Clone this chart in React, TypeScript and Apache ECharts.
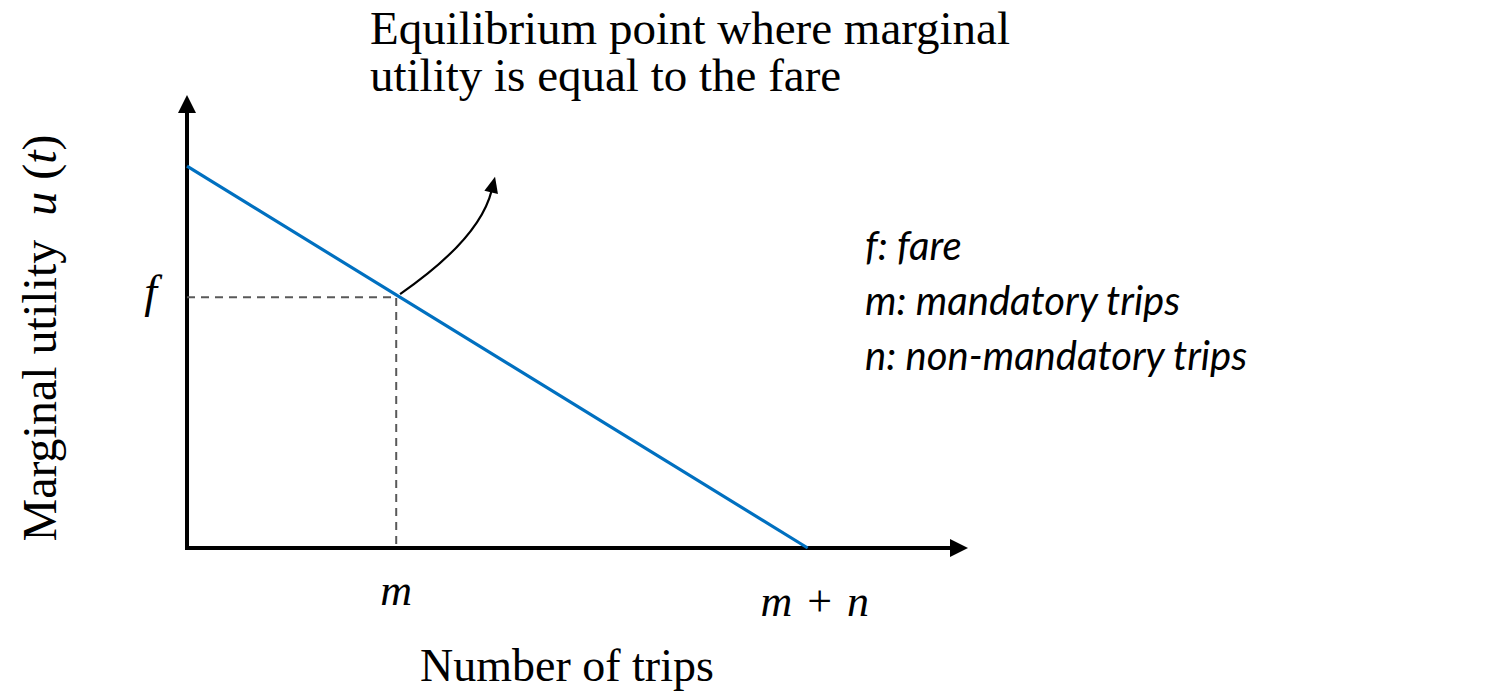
import React, { useEffect, useRef } from 'react';
import * as echarts from 'echarts';

// ---- data ----
const xMax = 100;
const yMax = 100;
const demandX = [0, 80.4];
const demandY = [86, 0];
const guidePoints = [[0, 56.5], [27.1, 56.5], [27.1, 0]];
const xTickValues = [27.1, 80.4];
const xTickLabels = ['{i|m}', '{k|m}{p|+}{i|n}'];
const yTickValues = [56.5];
const yTickLabels = ['{i|f}'];
// start x, start y, control x, control y, end x, end y
const annotationArrow = [[27.6, 57.2, 37.9, 69.6, 39.9, 83.6]];
const titleLines = ['Equilibrium point where marginal', 'utility is equal to the fare'];
const legendLines = ['f: fare', 'm: mandatory trips', 'n: non-mandatory trips'];
const xAxisTitle = 'Number of trips';
const yAxisTitle = '{a|Marginal utility  }{i|u}{a| (}{i|t}{a|)}';

const SERIF = '"Liberation Serif", "Times New Roman", serif';
const SANS = 'Lato, "Noto Sans", sans-serif';

export default function App() {
  const ref = useRef<HTMLDivElement>(null);
  useEffect(() => {
    document.body.style.margin = '0';
    document.body.style.overflow = 'hidden';
    const chart = echarts.init(ref.current!, null, { renderer: 'svg' });
    const findIdx = (arr: number[], v: number) => arr.findIndex((t) => Math.abs(t - v) < 1e-6);
    const labelRich = {
      i: { fontStyle: 'italic', fontSize: 44, fontFamily: SERIF, color: '#000' },
      k: { fontStyle: 'italic', fontSize: 44, fontFamily: SERIF, color: '#000', padding: [0, 0, 0, 14] },
      p: { fontSize: 44, fontFamily: SERIF, color: '#000', padding: [0, 15, 0, 15] },
    };
    const baseAxisLine = {
      show: true,
      onZero: false,
      symbol: ['none', 'triangle'],
      symbolSize: [18, 18],
      lineStyle: { color: '#000', width: 4, cap: 'square' },
    };
    chart.setOption({
      animation: false,
      backgroundColor: '#ffffff',
      grid: { left: 187, top: 104, right: 542, bottom: 145, containLabel: false },
      xAxis: [
        {
          type: 'value',
          min: 0,
          max: xMax,
          position: 'bottom',
          axisLine: baseAxisLine,
          axisTick: { show: false },
          splitLine: { show: false },
          axisLabel: {
            customValues: [xTickValues[0]],
            formatter: (v: number) => xTickLabels[findIdx(xTickValues, v)] ?? '',
            margin: 20,
            color: '#000',
            fontSize: 44,
            fontFamily: SERIF,
            rich: labelRich,
          },
        },
        {
          type: 'value',
          min: 0,
          max: xMax,
          position: 'bottom',
          offset: 0,
          axisLine: { show: false },
          axisTick: { show: false },
          splitLine: { show: false },
          axisLabel: {
            customValues: [xTickValues[1]],
            formatter: (v: number) => xTickLabels[findIdx(xTickValues, v)] ?? '',
            margin: 31,
            color: '#000',
            fontSize: 44,
            fontFamily: SERIF,
            rich: labelRich,
          },
        },
      ],
      yAxis: {
        type: 'value',
        min: 0,
        max: yMax,
        axisLine: baseAxisLine,
        axisTick: { show: false },
        splitLine: { show: false },
        axisLabel: {
          customValues: yTickValues,
          formatter: (v: number) => yTickLabels[findIdx(yTickValues, v)] ?? '',
          margin: 30,
          color: '#000',
          fontSize: 46,
          fontFamily: SERIF,
          rich: { i: { fontStyle: 'italic', fontSize: 46, fontFamily: SERIF, color: '#000', padding: [0, 0, 12, 0] } },
        },
      },
      series: [
        {
          type: 'line',
          data: guidePoints,
          symbol: 'none',
          lineStyle: { color: '#595959', width: 2, type: [8, 6] },
          z: 2,
        },
        {
          type: 'line',
          data: demandX.map((x, i) => [x, demandY[i]]),
          symbol: 'none',
          lineStyle: { color: '#0070C0', width: 3.2 },
          z: 3,
        },
        {
          type: 'custom',
          data: annotationArrow,
          encode: { x: [0, 2, 4], y: [1, 3, 5] },
          z: 4,
          renderItem: (_params: any, api: any) => {
            const p0 = api.coord([api.value(0), api.value(1)]);
            const c = api.coord([api.value(2), api.value(3)]);
            const p1 = api.coord([api.value(4), api.value(5)]);
            const dx = p1[0] - c[0];
            const dy = p1[1] - c[1];
            const len = Math.hypot(dx, dy) || 1;
            const ux = dx / len;
            const uy = dy / len;
            const headLen = 16;
            const headW = 7;
            const base = [p1[0] - ux * headLen, p1[1] - uy * headLen];
            const nx = -uy;
            const ny = ux;
            return {
              type: 'group',
              children: [
                {
                  type: 'bezierCurve',
                  shape: { x1: p0[0], y1: p0[1], x2: base[0] + ux * 2, y2: base[1] + uy * 2, cpx1: c[0], cpy1: c[1] },
                  style: { stroke: '#000', lineWidth: 2.2, fill: null },
                },
                {
                  type: 'polygon',
                  shape: {
                    points: [
                      [p1[0], p1[1]],
                      [base[0] + nx * headW, base[1] + ny * headW],
                      [base[0] - nx * headW, base[1] - ny * headW],
                    ],
                  },
                  style: { fill: '#000' },
                },
              ],
            };
          },
        },
      ],
      graphic: [
        ...titleLines.map((t, i) => ({
          type: 'text',
          x: 370,
          y: 28 + i * 47,
          style: {
            text: t,
            fontSize: 47,
            lineHeight: 47,
            fontFamily: SERIF,
            fill: '#000',
            textAlign: 'left',
            textVerticalAlign: 'middle',
          },
        })),
        {
          type: 'text',
          x: 39,
          y: 338,
          rotation: Math.PI / 2,
          style: {
            text: yAxisTitle,
            fill: '#000',
            textAlign: 'center',
            textVerticalAlign: 'middle',
            rich: {
              a: { fontSize: 48, fontFamily: SERIF, fill: '#000' },
              i: { fontSize: 48, fontFamily: SERIF, fontStyle: 'italic', fill: '#000' },
            },
          },
        },
        {
          type: 'text',
          x: 420,
          y: 665,
          style: {
            text: xAxisTitle,
            fontSize: 46,
            fontFamily: SERIF,
            fill: '#000',
            textAlign: 'left',
            textVerticalAlign: 'middle',
          },
        },
        ...legendLines.map((t, i) => ({
          type: 'text',
          x: 865,
          y: 245 + i * 55,
          style: {
            text: t,
            fontSize: 40,
            fontFamily: SANS,
            fontStyle: 'italic',
            fill: '#000',
            textAlign: 'left',
            textVerticalAlign: 'middle',
          },
        })),
      ],
    });
    return () => chart.dispose();
  }, []);
  return <div ref={ref} style={{ position: 'absolute', left: 0, top: 0, width: 1501, height: 693 }} />;
}
